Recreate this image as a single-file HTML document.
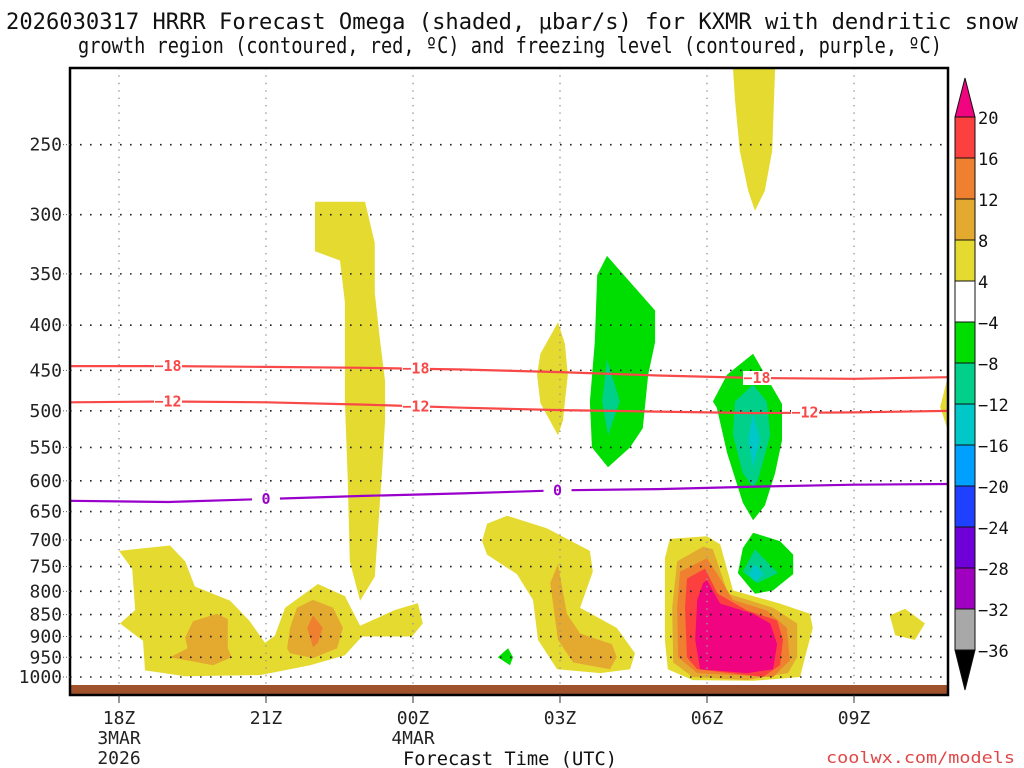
<!DOCTYPE html>
<html><head><meta charset="utf-8"><style>
html,body{margin:0;padding:0;background:#fff;}
svg{display:block;font-family:"DejaVu Sans Mono","Liberation Mono",monospace;}
</style></head><body>
<svg id="chart" width="1024" height="768" viewBox="0 0 1024 768">
<text x="6" y="29" textLength="1012" lengthAdjust="spacingAndGlyphs" font-size="22" fill="#111">2026030317 HRRR Forecast Omega (shaded, μbar/s) for KXMR with dendritic snow</text>
<text x="78" y="53" textLength="864" lengthAdjust="spacingAndGlyphs" font-size="22" fill="#111">growth region (contoured, red, ºC) and freezing level (contoured, purple, ºC)</text>
<g id="shades"></g>
<g id="grid"></g>
<g id="lines"></g>
<rect x="70" y="685" width="878" height="10" fill="#a0522d"/>
<rect x="70" y="68" width="878" height="627" fill="none" stroke="#000" stroke-width="2.5"/>
<g id="axes"></g>
<g id="cbar"></g>
<text x="403" y="765" textLength="214" lengthAdjust="spacingAndGlyphs" font-size="19" fill="#111">Forecast Time (UTC)</text>
<text x="826" y="763" textLength="189" lengthAdjust="spacingAndGlyphs" font-size="16" fill="#e04848">coolwx.com/models</text>
</svg>
<script>
// ---- data ----
const pressureTicks = [250,300,350,400,450,500,550,600,650,700,750,800,850,900,950,1000];
const timeTickHours = [1,4,7,10,13,16];
const timeTickLabels = [["18Z","3MAR","2026"],["21Z"],["00Z","4MAR"],["03Z"],["06Z"],["09Z"]];
const lineHours = [0,2,4,6,8,10,12,14,16,18];
const dgzMinus18 = [445,445,446,447,449,452,456,459,460,458];
const dgzMinus12 = [489,488,489,492,496,499,501,503,502,500];
const freezingLevel = [632,634,629,624,620,615,613,609,606,605];
const cbarLevels = ["20","16","12","8","4","−4","−8","−12","−16","−20","−24","−28","−32","−36"];
const cbarColors = ["#fc4040","#ef8030","#e4aa30","#e5da30","#ffffff","#00dd00","#00d08a","#00c8c8","#00a0ff","#2040ff","#7000d8","#a000c0","#a8a8a8"];
// omega shaded regions: [hour since 17Z, hPa]
const yellowRegions = [
 [[1.0,720],[2.04,710],[2.35,740],[2.55,790],[3.27,820],[3.67,865],[3.98,915],[4.18,898],[4.39,835],[5.06,785],[5.61,810],[5.92,875],[6.63,840],[7.1,825],[7.2,870],[6.98,900],[5.96,900],[5.61,945],[4.9,970],[3.88,995],[2.35,998],[1.53,983],[1.49,910],[1.02,870],[1.33,840],[1.27,755]],
 [[5.0,290],[6.02,290],[6.22,323],[6.22,368],[6.33,418],[6.43,463],[6.43,513],[6.37,584],[6.22,770],[5.92,820],[5.71,740],[5.67,600],[5.61,488],[5.61,377],[5.51,338],[5.0,330]],
 [[9.96,397],[10.1,420],[10.16,455],[10.06,513],[9.96,533],[9.6,490],[9.53,455],[9.6,431]],
 [[8.92,657],[9.73,679],[10.61,720],[10.67,760],[10.41,835],[11.16,880],[11.53,940],[11.43,980],[10.82,990],[9.94,980],[9.55,908],[9.45,818],[9.12,765],[8.51,727],[8.41,702],[8.51,671]],
 [[12.24,698],[13.0,693],[13.27,708],[13.53,798],[14.49,826],[15.1,848],[15.16,880],[15.0,950],[14.9,1000],[13.94,1010],[12.71,1008],[12.2,980],[12.14,908],[12.14,734]],
 [[13.53,205],[14.39,205],[14.33,254],[14.18,282],[13.98,297],[13.84,282],[13.67,254],[13.57,222]],
 [[16.73,852],[17.04,837],[17.45,870],[17.24,908],[16.84,897]],
 [[17.92,456],[17.76,495],[17.92,527]]
];
const goldRegions = [
 [[2.35,902],[2.51,865],[3.0,848],[3.22,860],[3.22,928],[3.3,950],[2.92,970],[2.04,950],[2.4,928]],
 [[4.49,880],[4.63,835],[4.96,818],[5.37,835],[5.57,880],[5.45,928],[4.96,952],[4.49,940],[4.43,928]],
 [[9.96,745],[10.14,848],[10.41,893],[11.06,918],[11.16,950],[11.02,980],[10.27,963],[9.96,908],[9.8,783]],
 [[12.39,740],[12.92,712],[13.12,717],[13.43,805],[14.35,835],[14.84,870],[14.84,950],[14.65,990],[13.82,1008],[12.71,1000],[12.31,963],[12.29,835]]
];
const orangeRegions = [
 [[4.84,880],[4.96,852],[5.16,880],[5.06,915],[4.96,925]],
 [[12.45,760],[13.0,734],[13.27,774],[13.53,818],[14.22,841],[14.63,880],[14.69,958],[14.35,1000],[12.8,990],[12.41,950],[12.39,835]]
];
const redRegions = [
 [[12.59,774],[12.96,754],[13.22,805],[13.82,841],[14.43,863],[14.55,908],[14.49,970],[14.14,1000],[12.8,980],[12.59,950],[12.55,835]]
];
const magentaRegions = [
 [[13.0,777],[13.27,826],[13.94,848],[14.29,870],[14.43,918],[14.35,980],[13.82,990],[12.86,980],[12.76,908],[12.8,818],[12.92,783]]
];
const greenRegions = [
 [[10.96,334],[11.94,385],[11.94,418],[11.8,455],[11.69,523],[11.43,550],[10.98,579],[10.65,550],[10.61,488],[10.71,418],[10.76,351]],
 [[13.94,431],[14.53,491],[14.53,540],[14.39,588],[14.18,640],[13.94,665],[13.73,635],[13.41,558],[13.2,496],[13.12,488],[13.41,455]],
 [[13.94,687],[14.49,702],[14.76,727],[14.76,765],[14.35,798],[13.98,805],[13.63,763],[13.73,715]],
 [[8.73,950],[8.94,928],[9.04,950],[8.98,970]]
];
const tealRegions = [
 [[10.96,437],[11.22,488],[10.98,533],[10.86,488]],
 [[13.94,467],[14.22,488],[14.29,533],[14.04,598],[13.94,610],[13.73,588],[13.53,533],[13.57,488]],
 [[13.98,717],[14.45,763],[14.02,783],[13.73,760]]
];
const cyanRegions = [
 [[13.94,504],[14.08,538],[13.94,579],[13.84,538]],
 [[13.98,745],[14.15,765],[13.98,780],[13.85,765]]
];

// ---- axes ----
const NS="http://www.w3.org/2000/svg";
const X0=70,X1=948,PXH=49;
function xs(h){return X0+PXH*h;}
function ys(p){return 677-384*Math.log(1000/p);}
function mk(tag,attrs,parent){const e=document.createElementNS(NS,tag);for(const k in attrs)e.setAttribute(k,attrs[k]);parent.appendChild(e);return e;}
const shades=document.getElementById('shades'),grid=document.getElementById('grid'),lines=document.getElementById('lines'),axes=document.getElementById('axes'),cbar=document.getElementById('cbar');
const clip=mk('clipPath',{id:'pc'},mk('defs',{},document.getElementById('chart')));
mk('rect',{x:X0,y:68,width:X1-X0,height:627},clip);
shades.setAttribute('clip-path','url(#pc)');lines.setAttribute('clip-path','url(#pc)');

function drawRegions(list,color,name){
 list.forEach((poly,i)=>{
  const e=mk('polygon',{points:poly.map(v=>xs(v[0]).toFixed(1)+','+ys(v[1]).toFixed(1)).join(' '),fill:color},shades);
  
  
 });
}
drawRegions(yellowRegions,'#e5da30','omega-4-8-region');
drawRegions(goldRegions,'#e4aa30','omega-8-12-region');
drawRegions(orangeRegions,'#ef8030','omega-12-16-region');
drawRegions(redRegions,'#fc4040','omega-16-20-region');
drawRegions(magentaRegions,'#f0047f','omega-over-20-region');
drawRegions(greenRegions,'#00dd00','omega-neg4-neg8-region');
drawRegions(tealRegions,'#00d08a','omega-neg8-neg12-region');
drawRegions(cyanRegions,'#00c8c8','omega-neg12-neg16-region');

// grid
pressureTicks.forEach(p=>{
 const y=ys(p);
 const g=mk('line',{x1:X0,x2:X1,y1:y,y2:y,stroke:'#222','stroke-width':1.6,'stroke-dasharray':'1.6 8.4'},grid);
 
 
 const t=mk('text',{x:62,y:y+6,'text-anchor':'end','font-size':18,fill:'#222'},axes);
 t.textContent=p;
 
 
 mk('line',{x1:63,x2:70,y1:y,y2:y,stroke:'#555','stroke-width':1,'stroke-dasharray':'1 2'},axes);
});
timeTickHours.forEach((h,i)=>{
 const x=xs(h);
 const g=mk('line',{x1:x,x2:x,y1:68,y2:695,stroke:'#999','stroke-width':1.4,'stroke-dasharray':'1.4 6'},grid);
 
 
 mk('line',{x1:x,x2:x,y1:695,y2:703,stroke:'#333','stroke-width':1},axes);
 timeTickLabels[i].forEach((s,j)=>{
  const t=mk('text',{x:x,y:724+j*20,'text-anchor':'middle','font-size':18,fill:'#222'},axes);
  t.textContent=s;
  
  
 });
});

// contour lines
function drawLine(vals,color,name,labels,lab){
 const d=vals.map((p,i)=>(i?'L':'M')+xs(lineHours[i]).toFixed(1)+' '+ys(p).toFixed(1)).join(' ');
 const e=mk('path',{d:d,fill:'none',stroke:color,'stroke-width':2.2},lines);
 
 
 labels.forEach(h=>{
  let k=Math.min(Math.floor(h/2),lineHours.length-2);
  const f=(h-lineHours[k])/(lineHours[k+1]-lineHours[k]);
  const p=vals[k]+(vals[k+1]-vals[k])*f;
  const x=xs(h),y=ys(p);
  mk('rect',{x:x-14,y:y-7,width:28,height:14,fill:'#fff'},lines);
  const t=mk('text',{x:x,y:y+5,'text-anchor':'middle','font-size':15,'font-weight':'bold',fill:color},lines);
  t.textContent=lab;
  
  
 });
}
drawLine(dgzMinus18,'#f84848','dgz-minus18-contour',[2.0,7.06,14.02],'−18');
drawLine(dgzMinus12,'#f84848','dgz-minus12-contour',[2.0,7.06,15.0],'−12');
drawLine(freezingLevel,'#9a00cc','freezing-level-contour',[4.0,9.95],'0');

// colorbar
const CB0=117,CBH=41,CX=955,CW=20;
cbarColors.forEach((c,i)=>{
 const r=mk('rect',{x:CX,y:CB0+i*CBH,width:CW,height:CBH,fill:c,stroke:'#111','stroke-width':1},cbar);
 
 
});
const tri1=mk('polygon',{points:`${CX},${CB0} ${CX+CW/2},78 ${CX+CW},${CB0}`,fill:'#f0047f',stroke:'#111','stroke-width':1},cbar);


const endY=CB0+cbarColors.length*CBH;
const tri2=mk('polygon',{points:`${CX},${endY} ${CX+CW/2},690 ${CX+CW},${endY}`,fill:'#000',stroke:'#111','stroke-width':1},cbar);


cbarLevels.forEach((s,i)=>{
 const t=mk('text',{x:978,y:CB0+i*CBH+7,'font-size':17,fill:'#111'},cbar);
 t.textContent=s;
 
 
});
</script>
</body></html>
